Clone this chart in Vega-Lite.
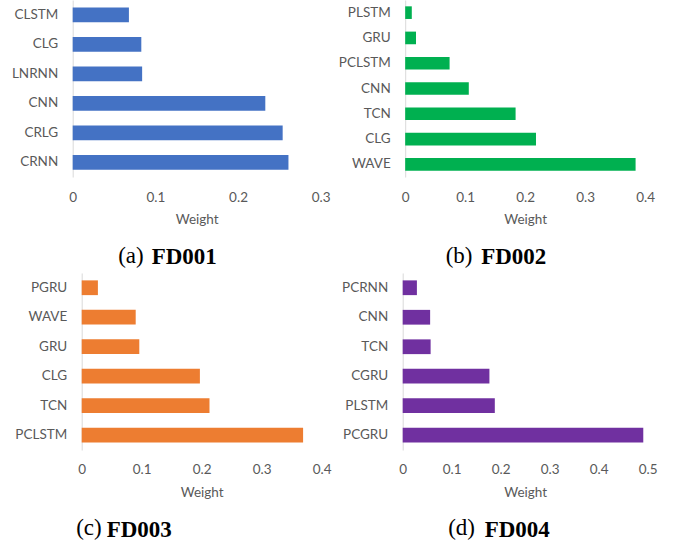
{
  "$schema": "https://vega.github.io/schema/vega-lite/v6.json",
  "background": "white",
  "padding": {"left": 10.7, "top": 0, "right": 0, "bottom": 0},
  "spacing": 4,
  "datasets": {
    "fd001": [
      {"model": "CLSTM", "weight": 0.068},
      {"model": "CLG", "weight": 0.083},
      {"model": "LNRNN", "weight": 0.084},
      {"model": "CNN", "weight": 0.233},
      {"model": "CRLG", "weight": 0.254},
      {"model": "CRNN", "weight": 0.261}
    ],
    "fd002": [
      {"model": "PLSTM", "weight": 0.011},
      {"model": "GRU", "weight": 0.018},
      {"model": "PCLSTM", "weight": 0.074},
      {"model": "CNN", "weight": 0.106},
      {"model": "TCN", "weight": 0.184},
      {"model": "CLG", "weight": 0.218},
      {"model": "WAVE", "weight": 0.384}
    ],
    "fd003": [
      {"model": "PGRU", "weight": 0.027},
      {"model": "WAVE", "weight": 0.09},
      {"model": "GRU", "weight": 0.096},
      {"model": "CLG", "weight": 0.197},
      {"model": "TCN", "weight": 0.213},
      {"model": "PCLSTM", "weight": 0.369}
    ],
    "fd004": [
      {"model": "PCRNN", "weight": 0.029},
      {"model": "CNN", "weight": 0.056},
      {"model": "TCN", "weight": 0.057},
      {"model": "CGRU", "weight": 0.177},
      {"model": "PLSTM", "weight": 0.188},
      {"model": "PCGRU", "weight": 0.491}
    ]
  },
  "config": {
    "view": {"stroke": null},
    "axis": {
      "labelFont": "Lato",
      "labelFontSize": 13.5,
      "labelColor": "#595959",
      "titleFont": "Lato",
      "titleFontSize": 13.5,
      "titleFontWeight": "normal",
      "titleColor": "#595959",
      "grid": false,
      "ticks": false,
      "domainColor": "#d9d9d9"
    },
    "axisX": {"domain": false, "labelPadding": 13, "titlePadding": 9, "format": "~f", "labelFlush": false},
    "axisY": {"domain": true, "labelPadding": 15},
    "title": {"font": "Liberation Serif", "fontSize": 23, "fontWeight": "bold", "color": "black", "orient": "bottom", "anchor": "start", "frame": "group", "dy": -25}
  },
  "vconcat": [
    {
      "bounds": "flush",
      "spacing": 84.5,
      "hconcat": [
        {
          "width": 248, "height": 177,
          "data": {"name": "fd001"},
          "mark": {"type": "bar", "color": "#4472C4"},
          "title": {"text": "FD001", "dx": 79},
          "encoding": {
            "y": {"field": "model", "type": "nominal", "sort": null,
                  "scale": {"paddingInner": 0.5, "paddingOuter": 0.25},
                  "axis": {"title": "(a)", "titleAngle": 0, "titleAlign": "left", "titleBaseline": "alphabetic", "titleX": 45, "titleY": 262, "titleFont": "Liberation Serif", "titleFontSize": 23, "titleColor": "black"}},
            "x": {"field": "weight", "type": "quantitative",
                  "scale": {"domain": [0, 0.3], "nice": false},
                  "axis": {"values": [0, 0.1, 0.2, 0.3], "title": "Weight"}}
          }
        },
        {
          "width": 240, "height": 177,
          "data": {"name": "fd002"},
          "mark": {"type": "bar", "color": "#00B050"},
          "title": {"text": "FD002", "dx": 76},
          "encoding": {
            "y": {"field": "model", "type": "nominal", "sort": null,
                  "scale": {"paddingInner": 0.5, "paddingOuter": 0.25},
                  "axis": {"title": "(b)", "titleAngle": 0, "titleAlign": "left", "titleBaseline": "alphabetic", "titleX": 40, "titleY": 262, "titleFont": "Liberation Serif", "titleFontSize": 23, "titleColor": "black"}},
            "x": {"field": "weight", "type": "quantitative",
                  "scale": {"domain": [0, 0.4], "nice": false},
                  "axis": {"values": [0, 0.1, 0.2, 0.3, 0.4], "title": "Weight"}}
          }
        }
      ]
    },
    {
      "bounds": "flush",
      "spacing": 0,
      "hconcat": [
        {"width": 9, "height": 177, "data": {"values": []}, "mark": "rect"},
        {
          "bounds": "flush",
          "spacing": 81,
          "hconcat": [
            {
              "width": 240, "height": 177,
              "data": {"name": "fd003"},
              "mark": {"type": "bar", "color": "#ED7D31"},
              "title": {"text": "FD003", "dx": 25},
              "encoding": {
                "y": {"field": "model", "type": "nominal", "sort": null,
                      "scale": {"paddingInner": 0.5, "paddingOuter": 0.25},
                      "axis": {"title": "(c)", "titleAngle": 0, "titleAlign": "left", "titleBaseline": "alphabetic", "titleX": -6, "titleY": 262, "titleFont": "Liberation Serif", "titleFontSize": 23, "titleColor": "black"}},
                "x": {"field": "weight", "type": "quantitative",
                      "scale": {"domain": [0, 0.4], "nice": false},
                      "axis": {"values": [0, 0.1, 0.2, 0.3, 0.4], "title": "Weight"}}
              }
            },
            {
              "width": 245, "height": 177,
              "data": {"name": "fd004"},
              "mark": {"type": "bar", "color": "#7030A0"},
              "title": {"text": "FD004", "dx": 82},
              "encoding": {
                "y": {"field": "model", "type": "nominal", "sort": null,
                      "scale": {"paddingInner": 0.5, "paddingOuter": 0.25},
                      "axis": {"title": "(d)", "titleAngle": 0, "titleAlign": "left", "titleBaseline": "alphabetic", "titleX": 45, "titleY": 262, "titleFont": "Liberation Serif", "titleFontSize": 23, "titleColor": "black"}},
                "x": {"field": "weight", "type": "quantitative",
                      "scale": {"domain": [0, 0.5], "nice": false},
                      "axis": {"values": [0, 0.1, 0.2, 0.3, 0.4, 0.5], "title": "Weight"}}
              }
            }
          ]
        }
      ]
    }
  ]
}
